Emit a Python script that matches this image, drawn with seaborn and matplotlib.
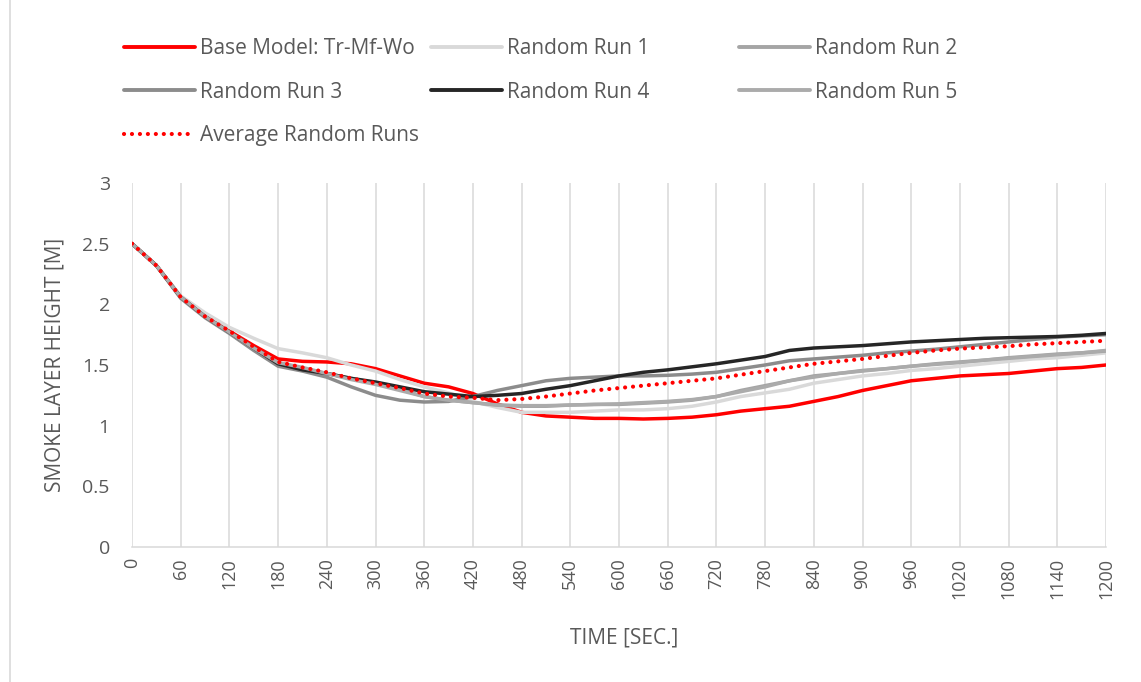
import numpy as np
import pandas as pd
import matplotlib
matplotlib.use('Agg')
import matplotlib.pyplot as plt
import seaborn as sns
from matplotlib.lines import Line2D

sns.set_style('white')
plt.rcParams['font.family'] = ['Open Sans', 'DejaVu Sans']
plt.rcParams['lines.dash_capstyle'] = 'round'

# data, every 30 s
time_sec = list(range(0, 1201, 30))
base_model = [2.50, 2.32, 2.06, 1.91, 1.78, 1.66, 1.55, 1.53, 1.525, 1.51, 1.47,
              1.41, 1.35, 1.32, 1.265, 1.18, 1.11, 1.08, 1.07, 1.06, 1.06,
              1.055, 1.06, 1.07, 1.09, 1.12, 1.14, 1.16, 1.20, 1.24, 1.29,
              1.33, 1.37, 1.39, 1.41, 1.42, 1.43, 1.45, 1.47, 1.48, 1.50]
run_1 = [2.50, 2.32, 2.07, 1.93, 1.81, 1.72, 1.635, 1.60, 1.56, 1.50, 1.45,
         1.38, 1.32, 1.27, 1.20, 1.15, 1.11, 1.11, 1.11, 1.12, 1.13,
         1.13, 1.14, 1.16, 1.195, 1.24, 1.27, 1.30, 1.35, 1.38, 1.41,
         1.43, 1.455, 1.47, 1.49, 1.51, 1.53, 1.55, 1.56, 1.58, 1.60]
run_2 = [2.50, 2.32, 2.06, 1.90, 1.77, 1.64, 1.52, 1.47, 1.43, 1.39, 1.35,
         1.30, 1.24, 1.21, 1.19, 1.17, 1.16, 1.16, 1.17, 1.175, 1.175,
         1.185, 1.195, 1.21, 1.24, 1.29, 1.33, 1.37, 1.41, 1.43, 1.455,
         1.47, 1.49, 1.51, 1.525, 1.54, 1.56, 1.575, 1.59, 1.60, 1.615]
run_3 = [2.50, 2.32, 2.05, 1.89, 1.76, 1.62, 1.49, 1.45, 1.40, 1.32, 1.25,
         1.21, 1.195, 1.20, 1.24, 1.29, 1.33, 1.37, 1.39, 1.40, 1.41,
         1.41, 1.415, 1.425, 1.44, 1.47, 1.50, 1.535, 1.55, 1.565, 1.58,
         1.60, 1.615, 1.63, 1.65, 1.67, 1.69, 1.71, 1.73, 1.74, 1.75]
run_4 = [2.50, 2.32, 2.06, 1.90, 1.77, 1.64, 1.51, 1.46, 1.43, 1.39, 1.36,
         1.32, 1.28, 1.26, 1.24, 1.25, 1.265, 1.30, 1.33, 1.37, 1.41,
         1.44, 1.46, 1.485, 1.51, 1.54, 1.57, 1.62, 1.64, 1.65, 1.66,
         1.675, 1.69, 1.70, 1.71, 1.72, 1.725, 1.73, 1.735, 1.745, 1.76]
run_5 = [2.50, 2.32, 2.06, 1.90, 1.77, 1.64, 1.52, 1.48, 1.43, 1.38, 1.34,
         1.29, 1.24, 1.21, 1.19, 1.17, 1.165, 1.165, 1.17, 1.175, 1.18,
         1.19, 1.20, 1.215, 1.24, 1.28, 1.32, 1.37, 1.40, 1.43, 1.45,
         1.47, 1.49, 1.505, 1.52, 1.54, 1.555, 1.57, 1.585, 1.60, 1.62]
avg_runs = [2.50, 2.32, 2.06, 1.90, 1.78, 1.65, 1.525, 1.48, 1.44, 1.39, 1.35,
            1.31, 1.265, 1.24, 1.23, 1.21, 1.22, 1.24, 1.265, 1.29, 1.31,
            1.33, 1.35, 1.37, 1.39, 1.42, 1.45, 1.48, 1.51, 1.53, 1.55,
            1.575, 1.60, 1.62, 1.635, 1.645, 1.655, 1.67, 1.68, 1.69, 1.70]

names = ['Base Model: Tr-Mf-Wo', 'Random Run 1', 'Random Run 2', 'Random Run 3',
         'Random Run 4', 'Random Run 5', 'Average Random Runs']
values = [base_model, run_1, run_2, run_3, run_4, run_5, avg_runs]
colors = ['#FF0000', '#D9D9D9', '#A5A5A5', '#8C8C8C', '#262626', '#ABABAB', '#FF0000']

df = pd.DataFrame({'time': time_sec * len(names),
                   'height': sum(values, []),
                   'series': np.repeat(names, len(time_sec))})

fig = plt.figure(figsize=(11.41, 6.82), dpi=100)
ax = fig.add_axes([132/1141, 1-547/682, (1106-132)/1141, (547-183)/682])

palette = dict(zip(names, colors))
dashes = {n: '' for n in names}
dashes['Average Random Runs'] = (0.01, 1.9)
sns.lineplot(data=df, x='time', y='height', hue='series', style='series',
             palette=palette, dashes=dashes, hue_order=names, style_order=names,
             linewidth=2.5, ax=ax, legend=False)
for ln in ax.lines:
    ln.set_dash_capstyle('round')
    ln.set_solid_capstyle('round')
ax.lines[-1].set_linewidth(3.0)

txt = '#595959'
ax.set_xlim(0, 1200)
ax.set_ylim(0, 3)
ax.set_xticks(range(0, 1201, 60))
ax.set_yticks(np.arange(0, 3.01, 0.5))
ax.set_yticklabels(['0', '0.5', '1', '1.5', '2', '2.5', '3'])
ax.tick_params(axis='x', labelrotation=90, length=0, pad=8, labelsize=13, colors=txt)
ax.tick_params(axis='y', length=0, pad=16, labelsize=14, colors=txt)
ax.grid(axis='x', color='#D9D9D9', linewidth=1.1)
ax.grid(axis='y', visible=False)
for s in ['top', 'right', 'left']:
    ax.spines[s].set_visible(False)
ax.spines['bottom'].set_color('#D9D9D9')
ax.spines['bottom'].set_linewidth(1.1)

ax.set_xlabel('TIME [SEC.]', fontsize=15, color=txt)
ax.set_ylabel('SMOKE LAYER HEIGHT [M]', fontsize=15, color=txt)
ax.xaxis.set_label_coords(0.505, -0.222)
ax.yaxis.set_label_coords(-0.068, 0.5)

# legend laid out in three columns like the original
def handle(i):
    ls = (0, (0.01, 1.9)) if i == 6 else '-'
    lw = 3.0 if i == 6 else 2.8
    return Line2D([0], [0], color=colors[i], lw=lw, linestyle=ls, dash_capstyle='round')

cols = [([0, 3, 6], 124), ([1, 4], 431), ([2, 5], 739)]
for idx, xpx in cols:
    leg = fig.legend([handle(i) for i in idx], [names[i] for i in idx],
                     loc='upper left', bbox_to_anchor=(xpx/1141, 1-38/682),
                     frameon=False, fontsize=15, handlelength=3.4, handletextpad=0.25,
                     labelspacing=1.09, borderpad=0, borderaxespad=0, labelcolor=txt)

fig.add_artist(Line2D([10/1141, 10/1141], [0, 1], color='#D9D9D9', lw=1.2))

fig.savefig('out.png', dpi=100)
